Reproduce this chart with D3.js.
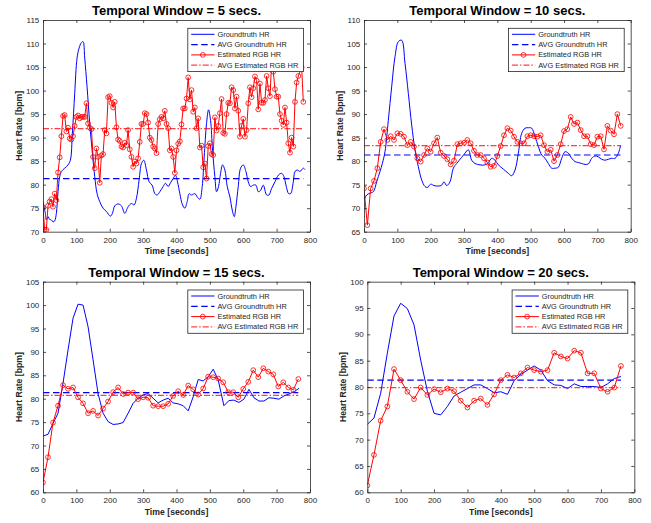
<!DOCTYPE html>
<html>
<head>
<meta charset="utf-8">
<script src="https://cdnjs.cloudflare.com/ajax/libs/d3/7.8.5/d3.min.js"></script>
<style>
  body { margin: 0; background: #fff; }
  svg { font-family: "Liberation Sans", Arial, sans-serif; }
</style>
</head>
<body>
<div id="container"></div>
<script>
// ---- data: [time (s), heart rate (bpm)] ----
let titles = ["Temporal Window = 5 secs.", "Temporal Window = 10 secs.",
              "Temporal Window = 15 secs.", "Temporal Window = 20 secs."];
let xTicks = [0, 100, 200, 300, 400, 500, 600, 700, 800];
let yTicks5 = [70, 75, 80, 85, 90, 95, 100, 105, 110, 115];
let yTicks10 = [65, 70, 75, 80, 85, 90, 95, 100, 105, 110];
let yTicks15 = [60, 65, 70, 75, 80, 85, 90, 95, 100, 105];
let yTicks20 = [60, 65, 70, 75, 80, 85, 90, 95, 100];
let legendLabels = ["Groundtruth HR", "AVG Groundtruth HR", "Estimated RGB HR", "AVG Estimated RGB HR"];
let avgGt = [81.3, 81.3, 81.3, 81.3];
let avgEst = [91.9, 83.3, 80.7, 79.9];

let gt5 = [[0,76.4],[7,73.9],[10,72.5],[15,73.2],[20,72.6],[25,72.5],[30,72.1],[35,72.3],[40,73.9],[45,78.5],
  [50,81.7],[55,82.8],[65,83.5],[75,84.2],[82,85.2],[88,90.9],[95,99.4],[102,106.9],[108,109.0],[115,110.2],
  [120,110.4],[125,106.9],[132,100.8],[140,93.0],[148,86.7],[155,81.7],[162,78.1],[170,76.4],[180,75.0],[190,74.3],
  [202,73.3],[208,73.9],[215,75.5],[225,75.9],[235,75.5],[245,73.9],[255,75.3],[265,76.0],[273,75.7],[280,77.1],
  [288,81.0],[295,84.5],[302,85.2],[310,83.1],[318,80.6],[327,79.9],[335,78.1],[342,77.8],[350,78.5],[360,79.6],
  [367,80.3],[375,79.6],[382,80.4],[390,81.3],[397,82.0],[403,80.6],[410,78.1],[418,75.7],[425,75.0],[432,76.4],
  [438,78.1],[445,77.8],[455,78.1],[462,77.4],[470,76.9],[477,79.6],[483,85.9],[490,93.0],[496,95.9],[502,93.7],
  [508,87.3],[515,81.7],[520,78.5],[526,79.6],[532,82.4],[538,84.2],[545,83.1],[552,79.6],[560,77.4],[567,74.6],
  [573,73.2],[578,75.3],[585,79.6],[592,83.5],[600,84.2],[608,82.8],[615,80.6],[622,79.6],[630,79.9],[638,79.9],
  [645,78.5],[652,78.8],[660,79.9],[670,77.8],[677,77.8],[685,79.2],[695,80.6],[705,82.0],[715,82.4],[722,81.7],
  [728,79.9],[736,78.1],[742,78.1],[750,80.6],[755,82.8],[762,83.1],[770,82.8],[780,83.5],[785,83.2]];

let est5 = [[0,75.2],[5,70.4],[10,70.4],[15,75.5],[20,76.4],[25,76.9],[30,75.3],[35,78.1],[40,76.7],[45,82.6],
  [50,85.8],[55,90.3],[60,94.6],[65,94.8],[70,91.3],[75,92.1],[80,89.8],[85,89.6],[90,90.3],[95,92.5],
  [100,94.4],[105,94.7],[110,94.1],[115,94.4],[120,94.4],[125,94.4],[130,97.3],[135,93.0],[140,92.1],[145,91.8],
  [150,85.9],[155,83.5],[160,87.7],[165,85.9],[170,80.4],[175,86.2],[180,86.5],[185,91.6],[190,90.9],[195,98.6],
  [200,98.8],[205,97.4],[210,96.4],[215,97.6],[220,92.2],[225,89.6],[230,89.3],[235,88.1],[240,87.9],[245,88.9],
  [250,88.4],[255,91.6],[260,87.5],[265,85.9],[270,83.8],[275,84.9],[280,84.5],[285,85.6],[290,89.1],[295,92.9],
  [300,92.9],[305,95.2],[310,95.0],[315,93.2],[320,90.0],[325,89.5],[330,88.1],[335,87.7],[340,86.7],[345,92.9],
  [350,93.9],[355,94.4],[360,94.1],[365,95.7],[370,92.9],[375,92.0],[380,87.3],[385,87.7],[390,85.9],[395,82.5],
  [400,87.3],[405,88.7],[410,89.2],[415,92.8],[420,96.2],[425,96.2],[430,98.3],[435,102.8],[440,98.1],[445,100.1],
  [450,95.5],[455,96.4],[460,92.0],[465,94.1],[470,87.9],[475,88.3],[480,83.7],[485,84.5],[490,81.3],[495,88.2],
  [500,88.8],[505,86.5],[510,86.3],[515,94.3],[520,91.5],[525,92.5],[530,95.2],[535,98.2],[540,91.0],[545,90.8],
  [550,95.0],[555,97.4],[560,97.3],[565,100.7],[570,100.1],[575,96.2],[580,98.7],[585,95.7],[590,90.2],[595,92.5],
  [600,94.0],[605,90.2],[610,91.6],[615,97.3],[620,100.7],[625,98.6],[630,100.5],[635,103.0],[640,102.1],[645,96.0],
  [650,101.5],[655,97.4],[660,97.4],[665,98.0],[670,103.1],[675,100.5],[680,98.8],[685,105.8],[690,104.0],[695,100.3],
  [700,98.7],[705,98.7],[710,95.0],[715,93.6],[720,92.7],[725,96.4],[730,93.2],[735,88.8],[740,86.8],[745,90.0],
  [750,88.1],[755,97.6],[760,101.7],[765,103.1],[775,104.9],[780,97.6]];

let gt10 = [[0,71.7],[8,72.8],[18,73.2],[28,73.5],[38,75.6],[48,77.8],[55,79.5],[63,82.0],[73,88.7],[83,95.8],
  [93,102.2],[103,105.4],[113,105.7],[123,100.8],[133,94.4],[143,87.7],[153,82.4],[163,78.8],[173,76.0],[183,74.6],
  [190,74.4],[200,75.1],[210,74.8],[223,74.7],[233,74.9],[240,75.6],[248,74.8],[258,75.6],[268,78.5],[278,79.5],
  [293,80.8],[303,81.7],[313,82.4],[323,80.2],[333,79.5],[348,79.2],[363,79.2],[373,79.7],[383,80.6],[393,80.2],
  [403,79.2],[418,78.3],[433,77.4],[443,76.9],[453,78.1],[463,81.7],[473,85.9],[483,87.0],[493,87.1],[503,87.0],
  [513,85.2],[523,83.1],[533,81.3],[543,80.6],[553,79.5],[563,78.5],[573,78.5],[583,78.7],[593,80.6],[603,82.0],
  [613,81.7],[623,80.6],[633,79.9],[643,79.7],[653,79.5],[663,79.3],[673,79.4],[683,80.6],[693,81.1],[703,80.9],
  [713,80.4],[723,80.2],[733,80.4],[743,80.6],[753,80.6],[763,81.7],[770,83.4]];

let est10 = [[0,74.2],[10,66.4],[20,74.2],[30,75.8],[40,78.5],[50,84.1],[60,86.8],[70,84.5],[80,85.3],[90,84.5],
  [100,85.9],[110,85.8],[120,85.2],[130,83.4],[140,84.1],[150,83.1],[160,80.6],[170,79.9],[180,81.3],[190,82.7],
  [200,82.0],[210,83.8],[220,85.0],[230,81.8],[240,81.1],[250,80.4],[260,79.3],[270,80.1],[280,83.6],[290,83.8],
  [300,83.9],[310,84.5],[320,83.8],[330,82.2],[340,81.3],[350,81.3],[360,80.6],[370,79.7],[380,78.8],[390,79.0],
  [400,81.1],[410,83.2],[420,85.5],[430,87.0],[440,86.5],[450,85.2],[460,84.1],[470,83.8],[480,83.8],[490,85.3],
  [500,85.5],[510,85.3],[520,85.2],[530,85.5],[540,83.4],[550,82.0],[560,82.4],[570,80.0],[580,81.3],[590,83.6],
  [600,86.4],[610,86.8],[620,89.4],[630,87.9],[640,88.2],[650,86.6],[660,85.3],[670,85.3],[680,83.6],[690,83.4],
  [700,85.2],[710,85.3],[720,82.5],[730,87.5],[740,86.5],[750,85.7],[760,90.0],[770,87.5]];

let gt15 = [[0,72.0],[15,72.4],[30,74.7],[45,76.9],[60,83.3],[75,90.4],[90,97.2],[105,100.2],[120,100.0],[135,95.4],
  [150,88.3],[165,81.1],[180,76.9],[195,75.1],[210,74.5],[225,74.6],[240,74.9],[255,76.9],[270,79.0],[285,80.1],
  [300,80.8],[315,81.1],[330,80.1],[345,79.1],[360,79.7],[375,80.1],[390,79.1],[405,78.9],[420,78.5],[435,77.4],
  [450,80.4],[465,84.1],[480,83.8],[495,84.7],[510,86.3],[525,84.0],[542,78.5],[557,79.6],[572,79.7],[587,79.2],
  [602,79.9],[617,82.0],[632,80.2],[647,79.5],[662,79.5],[677,80.2],[692,80.1],[707,79.9],[722,80.6],[737,81.0],
  [752,81.5],[767,82.2]];

let est15 = [[0,62.1],[15,67.5],[30,74.9],[45,78.5],[60,82.9],[75,82.1],[90,82.4],[105,80.3],[120,79.0],[135,76.9],
  [150,77.4],[165,76.4],[180,77.9],[195,79.4],[210,81.4],[225,82.4],[240,81.0],[255,81.3],[270,81.3],[285,79.9],
  [300,80.3],[315,80.2],[330,78.5],[345,78.4],[360,78.4],[375,78.9],[390,80.6],[405,81.6],[420,80.8],[435,82.8],
  [450,82.0],[465,80.9],[480,82.2],[495,84.7],[510,84.6],[525,84.3],[540,83.5],[555,81.4],[570,81.4],[585,80.3],
  [600,82.1],[615,83.6],[630,86.1],[645,84.6],[660,86.5],[675,85.8],[690,85.2],[705,82.6],[720,83.5],[735,82.4],
  [750,81.9],[765,84.2]];

let gt20 = [[0,72.9],[20,74.1],[40,78.8],[60,86.4],[80,93.5],[100,95.9],[120,94.9],[140,91.8],[160,85.1],[180,79.2],
  [200,75.0],[220,74.7],[240,76.3],[260,78.3],[280,79.0],[300,79.7],[320,80.4],[340,80.4],[360,79.7],[380,78.9],
  [400,79.1],[420,78.6],[440,81.2],[460,82.4],[480,83.2],[500,84.0],[520,83.2],[540,81.2],[560,80.4],[580,80.3],
  [600,79.7],[620,80.6],[640,80.1],[660,80.1],[680,80.1],[700,79.9],[720,80.6],[740,81.6],[760,82.0]];

let est20 = [[0,61.3],[20,67.1],[40,73.6],[60,76.3],[80,83.4],[100,81.3],[120,79.1],[140,77.7],[160,79.9],[180,78.5],
  [200,79.6],[220,79.0],[240,79.7],[260,79.2],[280,77.4],[300,76.1],[320,77.4],[340,77.8],[360,76.6],[380,78.6],
  [400,81.3],[420,82.3],[440,81.8],[460,82.6],[480,83.7],[500,83.2],[520,82.9],[540,83.2],[560,86.5],[580,85.8],
  [600,85.4],[620,86.9],[640,86.5],[660,82.6],[680,82.6],[700,79.7],[720,79.1],[740,79.9],[760,84.0]];

// ---- layout ----
let ink = "#262626";
let svg = d3.select('#container').append("svg")
    .attr("width", 651)
    .attr("height", 523);

let panels = [
  {left: 43,    right: 310,   top: 20,    bottom: 231.7, yTicks: yTicks5,  gt: gt5,  est: est5,  smooth: true},
  {left: 364,   right: 630.7, top: 20,    bottom: 231.7, yTicks: yTicks10, gt: gt10, est: est10, smooth: true},
  {left: 43,    right: 310,   top: 281.7, bottom: 492.3, yTicks: yTicks15, gt: gt15, est: est15, smooth: false},
  {left: 367.3, right: 634.3, top: 281.7, bottom: 492.3, yTicks: yTicks20, gt: gt20, est: est20, smooth: false}
];

function styleAxis(g){
  g.selectAll("path, line").attr("stroke", ink).attr("stroke-width", 0.8);
  g.selectAll("text").attr("fill", ink).attr("font-size", 8)
    .attr("font-family", "'Liberation Sans', Arial, sans-serif");
}

panels.forEach(function(p, i){
  let yTicks = p.yTicks;
  let x = d3.scaleLinear().domain([0, 800]).range([p.left, p.right]);
  let y = d3.scaleLinear().domain([yTicks[0], yTicks[yTicks.length - 1]]).range([p.bottom, p.top]);
  let g = svg.append("g");

  let clipId = "clip" + i;
  g.append("clipPath").attr("id", clipId)
    .append("rect")
      .attr("x", p.left).attr("y", p.top)
      .attr("width", p.right - p.left).attr("height", p.bottom - p.top);

  let plot = g.append("g").attr("clip-path", "url(#" + clipId + ")");

  // groundtruth
  let gtLine = d3.line()
      .x(function(d){ return x(d[0]); })
      .y(function(d){ return y(d[1]); })
      .curve(p.smooth ? d3.curveCatmullRom : d3.curveLinear);
  plot.append("path").datum(p.gt)
      .attr("d", gtLine)
      .attr("fill", "none").attr("stroke", "#0000ff").attr("stroke-width", 1);

  let lastT = p.est[p.est.length - 1][0];
  // averages
  plot.append("line")
      .attr("x1", x(0)).attr("x2", x(lastT))
      .attr("y1", y(avgGt[i])).attr("y2", y(avgGt[i]))
      .attr("stroke", "#0000ff").attr("stroke-width", 1.2)
      .attr("stroke-dasharray", "6.5,3.5");

  // estimated
  let estLine = d3.line()
      .x(function(d){ return x(d[0]); })
      .y(function(d){ return y(d[1]); });
  plot.append("path").datum(p.est)
      .attr("d", estLine)
      .attr("fill", "none").attr("stroke", "#ff0000").attr("stroke-width", 1);
  plot.selectAll(".mk").data(p.est).enter().append("circle")
      .attr("class", "mk")
      .attr("cx", function(d){ return x(d[0]); })
      .attr("cy", function(d){ return y(d[1]); })
      .attr("r", 2.4)
      .attr("fill", "none").attr("stroke", "#ff0000").attr("stroke-width", 0.8);

  plot.append("line")
      .attr("x1", x(0)).attr("x2", x(lastT))
      .attr("y1", y(avgEst[i])).attr("y2", y(avgEst[i]))
      .attr("stroke", "#ff0000").attr("stroke-opacity", 0.75).attr("stroke-width", 1.3)
      .attr("stroke-dasharray", "6,2,1.5,2");

  // axes (MATLAB style box with inward ticks)
  let xAxis = d3.axisBottom(x).tickValues(xTicks).tickSizeInner(-3).tickSizeOuter(0).tickPadding(5.3);
  let yAxis = d3.axisLeft(y).tickValues(yTicks).tickSizeInner(-3).tickSizeOuter(0).tickPadding(3.7);
  g.append("g").attr("transform", "translate(0," + p.bottom + ")").call(xAxis).call(styleAxis);
  g.append("g").attr("transform", "translate(" + p.left + ",0)").call(yAxis).call(styleAxis);
  g.append("g").attr("transform", "translate(0," + p.top + ")")
      .call(d3.axisTop(x).tickValues(xTicks).tickSizeInner(-3).tickSizeOuter(0).tickFormat(""))
      .call(styleAxis);
  g.append("g").attr("transform", "translate(" + p.right + ",0)")
      .call(d3.axisRight(y).tickValues(yTicks).tickSizeInner(-3).tickSizeOuter(0).tickFormat(""))
      .call(styleAxis);

  // labels
  let cx = (p.left + p.right) / 2;
  g.append("text")
      .attr("x", cx).attr("y", p.top - 4.8)
      .attr("text-anchor", "middle")
      .attr("font-size", 13).attr("font-weight", "bold").attr("fill", "#000")
      .text(titles[i]);
  g.append("text")
      .attr("x", cx).attr("y", p.bottom + 22.5)
      .attr("text-anchor", "middle")
      .attr("font-size", 8.7).attr("font-weight", "bold").attr("fill", ink)
      .text("Time [seconds]");
  g.append("text")
      .attr("transform", "translate(" + (p.left - 21.5) + "," + ((p.top + p.bottom) / 2) + ") rotate(-90)")
      .attr("text-anchor", "middle")
      .attr("font-size", 8.7).attr("font-weight", "bold").attr("fill", ink)
      .text("Heart Rate [bpm]");

  // legend
  let lw = 115.7, lh = 43.3;
  let lx = p.right - 6.5 - lw, ly = p.top + 8.3;
  let legend = g.append("g").attr("transform", "translate(" + lx + "," + ly + ")");
  legend.append("rect")
      .attr("width", lw).attr("height", lh)
      .attr("fill", "#fff").attr("stroke", ink).attr("stroke-width", 0.8);

  let rows = legend.selectAll(".row").data(legendLabels).enter().append("g")
      .attr("class", "row")
      .attr("transform", function(d, k){ return "translate(0," + (6 + k * 10.3) + ")"; });
  let dashes = [null, "6.5,3.5", null, "6,2,1.5,2"];
  let colors = ["#0000ff", "#0000ff", "#ff0000", "#ff0000"];
  rows.append("line")
      .attr("x1", 3.4).attr("x2", 26.7)
      .attr("stroke", function(d, k){ return colors[k]; })
      .attr("stroke-width", function(d, k){ return k % 2 ? 1.2 : 1; })
      .attr("stroke-opacity", function(d, k){ return k === 3 ? 0.75 : 1; })
      .attr("stroke-dasharray", function(d, k){ return dashes[k]; });
  rows.filter(function(d, k){ return k === 2; }).append("circle")
      .attr("cx", 15).attr("r", 2.4)
      .attr("fill", "none").attr("stroke", "#ff0000").attr("stroke-width", 0.8);
  rows.append("text")
      .attr("x", 29.7).attr("dy", "0.35em")
      .attr("font-size", 7.4).attr("fill", ink)
      .text(function(d){ return d; });
});
</script>
</body>
</html>
